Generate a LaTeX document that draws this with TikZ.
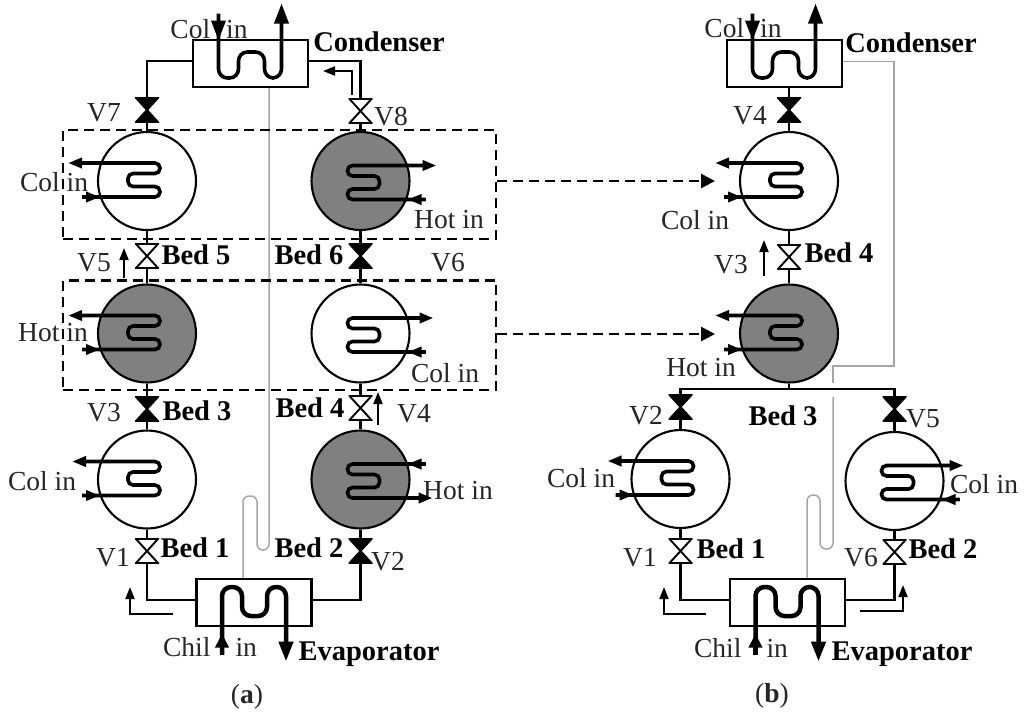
\documentclass[tikz,border=0pt]{standalone}
\usepackage{fontspec}
\setmainfont{Liberation Serif}
\usetikzlibrary{arrows.meta}
\definecolor{bedgray}{HTML}{808080}
\definecolor{inkgray}{HTML}{262626}
\definecolor{wiregray}{HTML}{A6A6A6}
\tikzset{
  pipe/.style={line width=2.3pt},
  box/.style={draw,line width=2.2pt,rectangle,minimum width=115pt,minimum height=47pt,inner sep=0pt},
  bed/.style={draw,line width=2.1pt,circle,minimum size=98pt,inner sep=0pt,fill=#1},
  bed/.default=white,
  valve/.style={minimum width=24pt,minimum height=26pt,inner sep=0pt,outer sep=0pt,
    path picture={\draw[line width=1.9pt,line join=miter,fill=#1]
      ([shift={(1pt,-1pt)}]path picture bounding box.north west)
      -- ([shift={(-1pt,-1pt)}]path picture bounding box.north east)
      -- ([shift={(1pt,1pt)}]path picture bounding box.south west)
      -- ([shift={(-1pt,1pt)}]path picture bounding box.south east) -- cycle;}},
  dashbox/.style={draw,line width=2.8pt,dash pattern=on 10pt off 6pt,rectangle,minimum width=433pt,inner sep=0pt},
  link/.style={line width=2.8pt,dash pattern=on 10pt off 6pt,-{Triangle[length=14pt,width=14pt]}},
  flow/.style={line width=1.9pt,-{Triangle[length=12pt,width=9pt]}},
  wire/.style={draw=wiregray,line width=1.5pt},
  lbl/.style={inner sep=0pt,text=inkgray,font=\fontsize{27.5}{28}\selectfont},
  blbl/.style={inner sep=0pt,text=black,font=\fontsize{28.5}{29}\selectfont\bfseries},
  coilpen/.style={line width=3.6pt,rounded corners=5pt},
  bighead/.style={-{Triangle[length=20pt,width=14pt]}},
  midhead/.style={-{Triangle[length=14pt,width=10pt]}},
  % serpentine inside a bed, opening to the left; #1 is the reach of the outlet
  pics/coil/.style={code={
    \draw[coilpen,midhead] (-65,17) -- (13,17) -- (13,6.5) -- (-19,6.5) -- (-19,-6.5)
      -- (13,-6.5) -- (13,-17) -- (-#1,-17);
    \draw[line width=3.6pt,midhead] (-65,17) -- (-47,17);
  }},
  pics/condcoil/.style={code={
    \draw[coilpen,rounded corners=9pt,bighead] (-32,-50) -- (-32,14.5) -- (-12,14.5) -- (-12,-11.5)
      -- (14,-11.5) -- (14,14.5) -- (31,14.5) -- (31,-60);
    \draw[line width=3.6pt,bighead] (-32,-50) -- (-32,-23);
  }},
  pics/evapcoil/.style={code={
    \draw[line width=4.5pt,rounded corners=9pt,bighead] (-32,52) -- (-32,-15.5) -- (-12,-15.5) -- (-12,13.5)
      -- (13,13.5) -- (13,-15.5) -- (#1,-15.5) -- (#1,59);
    \draw[line width=4.5pt,-{Triangle[length=14pt,width=13pt]}] (-32,52) -- (-32,31);
  }}
}
\begin{document}
\begin{tikzpicture}[x=1pt,y=-1pt]
\path[use as bounding box,fill=white] (0,0) rectangle (1024,713);

% (a) exchangers and valves
\node[box] (conda) at (250.5,63.5) {};
\node[box] (evapa) at (254,602.5) {};
\node[bed] (beda5) at (147,181) {};
\node[bed=bedgray] (beda6) at (360.5,181) {};
\node[bed=bedgray] (beda3) at (147,333.5) {};
\node[bed] (beda4) at (360.5,333.5) {};
\node[bed] (beda1) at (147,479.5) {};
\node[bed=bedgray] (beda2) at (360.5,479.5) {};
\node[valve=black] (va7) at (147,110) {};
\node[valve=white] (va8) at (360.5,111) {};
\node[valve=white] (va5) at (147,256) {};
\node[valve=black] (va6) at (360.5,256) {};
\node[valve=black] (va3) at (147,409) {};
\node[valve=white] (va4) at (360.5,408) {};
\node[valve=white] (va1) at (147,551) {};
\node[valve=black] (va2) at (360.5,551) {};

% (b) exchangers and valves
\node[box] (condb) at (784.5,63.5) {};
\node[box] (evapb) at (787.5,602.5) {};
\node[bed] (bedb4) at (789,181) {};
\node[bed=bedgray] (bedb3) at (789,333.5) {};
\node[bed] (bedb1) at (680.5,479) {};
\node[bed] (bedb2) at (894.5,481) {};
\node[valve=black] (vb4) at (789,110) {};
\node[valve=white] (vb3) at (789,257) {};
\node[valve=black] (vb2) at (680.5,407) {};
\node[valve=black] (vb5) at (894.5,409) {};
\node[valve=white] (vb1) at (680.5,551) {};
\node[valve=white] (vb6) at (894.5,552) {};
\coordinate (hb) at (789,389);

% thin grey lines
\draw[wire,rounded corners=6pt] ([xshift=18.5pt]conda.south) -- (269,550) -- (257,550) -- (257,496)
  -- (243,496) -- ([xshift=-11pt]evapa.north);
\draw[wire] ([yshift=2pt]condb.east) -- (894,61.5) -- (894,366) -- (833,366) -- (833,383);
\draw[wire,rounded corners=6pt] (833,397) -- (833,549) -- (820,549) -- (820,495) -- (807,495)
  -- ([xshift=19.5pt]evapb.north);

% (a) pipes
\draw[pipe] (va7) |- ([yshift=2.5pt]conda.west);
\draw[pipe] (va8) |- ([yshift=2.5pt]conda.east);
\draw[pipe] (va7) -- (beda5);
\draw[pipe] (va8) -- (beda6);
\draw[pipe] (beda5) -- (va5);
\draw[pipe] (beda6) -- (va6);
\draw[pipe] (va5) -- (beda3);
\draw[pipe] (va6) -- (beda4);
\draw[pipe] (beda3) -- (va3);
\draw[pipe] (beda4) -- (va4);
\draw[pipe] (va3) -- (beda1);
\draw[pipe] (va4) -- (beda2);
\draw[pipe] (beda1) -- (va1);
\draw[pipe] (beda2) -- (va2);
\draw[pipe] (va1) |- ([yshift=2.5pt]evapa.west);
\draw[pipe] (va2) |- ([yshift=2.5pt]evapa.east);

% (b) pipes
\draw[pipe] (condb.south -| vb4) -- (vb4);
\draw[pipe] (vb4) -- (bedb4);
\draw[pipe] (bedb4) -- (vb3);
\draw[pipe] (vb3) -- (bedb3);
\draw[pipe] (bedb3) -- (hb);
\draw[pipe] (vb2) |- (hb) -| (vb5);
\draw[pipe] (vb2) -- (bedb1);
\draw[pipe] (vb5) -- (bedb2);
\draw[pipe] (bedb1) -- (vb1);
\draw[pipe] (bedb2) -- (vb6);
\draw[pipe] (vb1) |- ([yshift=2.5pt]evapb.west);
\draw[pipe] (vb6) |- ([yshift=2.5pt]evapb.east);

% selection boxes and the links to (b)
\node[dashbox,minimum height=109pt] (sel1) at (279.5,184.5) {};
\node[dashbox,minimum height=109.5pt] (sel2) at (279.5,335.25) {};
\coordinate (t1) at (715,181);
\coordinate (t2) at (715,334);
\draw[link] (sel1.east |- t1) -- (t1);
\draw[link] (sel2.east |- t2) -- (t2);

% flow arrows
\coordinate (f8a) at (352,95); \coordinate (f8b) at (352,71); \coordinate (f8c) at (323,71);
\draw[flow] (f8a) -- (f8b) -- (f8c);
\coordinate (f5a) at (124,278); \coordinate (f5b) at (124,248);
\draw[flow] (f5a) -- (f5b);
\coordinate (f4a) at (378,425); \coordinate (f4b) at (378,392);
\draw[flow] (f4a) -- (f4b);
\coordinate (f1a) at (173,614); \coordinate (f1b) at (130,614); \coordinate (f1c) at (130,587);
\draw[flow] (f1a) -- (f1b) -- (f1c);
\coordinate (g3a) at (764,276); \coordinate (g3b) at (764,240);
\draw[flow] (g3a) -- (g3b);
\coordinate (g1a) at (706,614); \coordinate (g1b) at (664,614); \coordinate (g1c) at (664,587);
\draw[flow] (g1a) -- (g1b) -- (g1c);
\coordinate (g6a) at (860,611); \coordinate (g6b) at (903,611); \coordinate (g6c) at (903,585);
\draw[flow] (g6a) -- (g6b) -- (g6c);

% (a) labels
\node[lbl] (ta1) at (209,29) {Col\hspace{16pt}in};
\node[blbl] (ta2) at (379,42) {Condenser};
\node[lbl] (ta3) at (104,113) {V7};
\node[lbl] (ta4) at (391,117) {V8};
\node[lbl] (ta5) at (54,182) {Col in};
\node[lbl] (ta6) at (449,220) {Hot in};
\node[lbl] (ta7) at (94,263) {V5};
\node[blbl] (ta8) at (196,255) {Bed 5};
\node[blbl] (ta9) at (309,255) {Bed 6};
\node[lbl] (ta10) at (448,263) {V6};
\node[lbl] (ta11) at (53,333) {Hot in};
\node[lbl] (ta12) at (445,373) {Col in};
\node[lbl] (ta13) at (104,413) {V3};
\node[blbl] (ta14) at (197,411) {Bed 3};
\node[blbl] (ta15) at (310,408) {Bed 4};
\node[lbl] (ta16) at (414,414) {V4};
\node[lbl] (ta17) at (42,481) {Col in};
\node[lbl] (ta18) at (458,491) {Hot in};
\node[blbl] (ta19) at (195,548) {Bed 1};
\node[lbl] (ta20) at (113,558) {V1};
\node[blbl] (ta21) at (309,548) {Bed 2};
\node[lbl] (ta22) at (388,562) {V2};
\node[lbl] (ta23) at (210,647) {Chil\hspace{25pt}in};
\node[blbl] (ta24) at (369,654) {Evaporator};
\node[lbl] (ta25) at (247,697) {(\textbf{a})};

% (b) labels
\node[lbl] (tb1) at (743,28) {Col\hspace{16pt}in};
\node[blbl] (tb2) at (911,43) {Condenser};
\node[lbl] (tb3) at (750,116) {V4};
\node[lbl] (tb4) at (695,220) {Col in};
\node[lbl] (tb5) at (731,265) {V3};
\node[blbl] (tb6) at (839,253) {Bed 4};
\node[lbl] (tb7) at (701,368) {Hot in};
\node[lbl] (tb8) at (646,416) {V2};
\node[blbl] (tb9) at (783,416) {Bed 3};
\node[lbl] (tb10) at (923,419) {V5};
\node[lbl] (tb11) at (581,478) {Col in};
\node[lbl] (tb12) at (984,484) {Col in};
\node[lbl] (tb13) at (640,558) {V1};
\node[blbl] (tb14) at (731,549) {Bed 1};
\node[lbl] (tb15) at (861,558) {V6};
\node[blbl] (tb16) at (943,549) {Bed 2};
\node[lbl] (tb17) at (741,648) {Chil\hspace{25pt}in};
\node[blbl] (tb18) at (902,654) {Evaporator};
\node[lbl] (tb19) at (772,696) {(\textbf{b})};

% coils
\pic at (conda) {condcoil};
\pic at (evapa) {evapcoil=32};
\pic at (condb) {condcoil};
\pic at (evapb) {evapcoil=31};
\pic at ([yshift=1pt]beda5) {coil=79};
\pic[xscale=-1] at ([yshift=-1.5pt]beda6) {coil=76};
\pic at ([yshift=1pt]beda3) {coil=79};
\pic[xscale=-1] at ([yshift=-1.5pt]beda4) {coil=73};
\pic at ([yshift=1pt]beda1) {coil=75};
\pic[xscale=-1,yscale=-1] at ([yshift=-1.5pt]beda2) {coil=72};
\pic at ([yshift=1pt]bedb4) {coil=74};
\pic at ([yshift=1pt]bedb3) {coil=74};
\pic at ([yshift=1pt]bedb1) {coil=73};
\pic[xscale=-1] at ([yshift=-1.5pt]bedb2) {coil=69};
\end{tikzpicture}
\end{document}
